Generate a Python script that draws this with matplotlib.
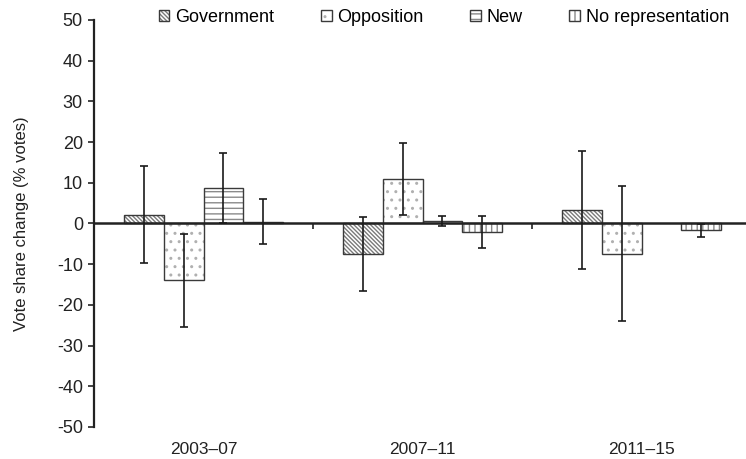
import numpy as np
import matplotlib
matplotlib.use('Agg')
import matplotlib.pyplot as plt
import matplotlib.transforms as mtransforms
from matplotlib.patches import Patch
from matplotlib.legend_handler import HandlerTuple

#Data section ------------------------------
periods = ['2003–07', '2007–11', '2011–15']
series = ['Government', 'Opposition', 'New', 'No representation']
gov = [2.2, -7.6, 3.4]
gov_err = [11.9, 9.1, 14.5]
opp = [-14.0, 11.0, -7.4]
opp_err = [11.4, 8.9, 16.5]
new = [8.7, 0.6, np.nan]
new_err = [8.5, 1.15, np.nan]
norep = [0.4, -2.1, -1.7]
norep_err = [5.5, 3.95, 1.5]

values = [gov, opp, new, norep]
errors = [gov_err, opp_err, new_err, norep_err]
hatches = ['\\' * 8, '..', '---', '|||']
hatch_cols = ['#7a7a7a', '#b0b0b0', '#8a8a8a', '#8a8a8a']

#Plot section ---------------------------------------------
plt.rcParams['font.family'] = ['Liberation Sans', 'DejaVu Sans']
plt.rcParams['axes.unicode_minus'] = False
plt.rcParams['hatch.linewidth'] = 1.0

fig = plt.figure(figsize=(7.46, 4.59), dpi=100)
ax = fig.add_axes([94/746, 1-427/459, (746-94)/746, 407/459])

w = 0.1826
offsets = [-1.5, -0.5, 0.5, 1.5]
centers = np.arange(len(periods)) + 0.5
edge = '#3a3a3a'

handles = []
for k in range(4):
    x = centers + offsets[k]*w
    v = np.array(values[k], dtype=float)
    ax.bar(x, v, width=w, color='white', edgecolor=hatch_cols[k], hatch=hatches[k],
           linewidth=0, zorder=2)
    ax.bar(x, v, width=w, color='none', edgecolor=edge, linewidth=1.0, zorder=3)
    ax.errorbar(x, v, yerr=errors[k], fmt='none', ecolor='#1a1a1a',
                elinewidth=1.2, capsize=3, capthick=1.2, zorder=5)
    handles.append((Patch(facecolor='white', edgecolor=hatch_cols[k], hatch=hatches[k], linewidth=0),
                    Patch(facecolor='none', edgecolor=edge, linewidth=1.0)))

ax.set_ylim(-50, 50)
ax.set_yticks(np.arange(-50, 51, 10))
ax.set_xlim(0, (746-94)/219)
ax.set_xticks([0, 1, 2])
ax.set_xticklabels([])
ax.tick_params(axis='y', direction='out', length=4, width=1.2, color='#222222',
               labelsize=13, pad=4, labelcolor='#222222')
ax.tick_params(axis='x', direction='out', length=4, width=1.2, color='#222222')

for s in ['top', 'right']:
    ax.spines[s].set_visible(False)
ax.spines['left'].set_linewidth(1.6)
ax.spines['left'].set_color('#222222')
ax.spines['bottom'].set_position(('data', 0))
ax.spines['bottom'].set_linewidth(1.8)
ax.spines['bottom'].set_color('#222222')
ax.spines['bottom'].set_zorder(4)

trans = mtransforms.blended_transform_factory(ax.transData, ax.transAxes)
for c, lab in zip(centers, periods):
    ax.text(c, -0.056, lab, transform=trans, ha='center', va='center',
            fontsize=12.5, color='#222222')

ax.set_ylabel('Vote share change (% votes)', fontsize=12, color='#222222', labelpad=20)

ax.legend(handles, series, handler_map={tuple: HandlerTuple(ndivide=1, pad=0)},
          loc='upper right', bbox_to_anchor=(0.985, 1.045), ncol=4, frameon=False,
          fontsize=13, handlelength=0.6, handleheight=0.6, handletextpad=0.3,
          columnspacing=2.6, borderaxespad=0)

plt.savefig('out.png', dpi=100)
